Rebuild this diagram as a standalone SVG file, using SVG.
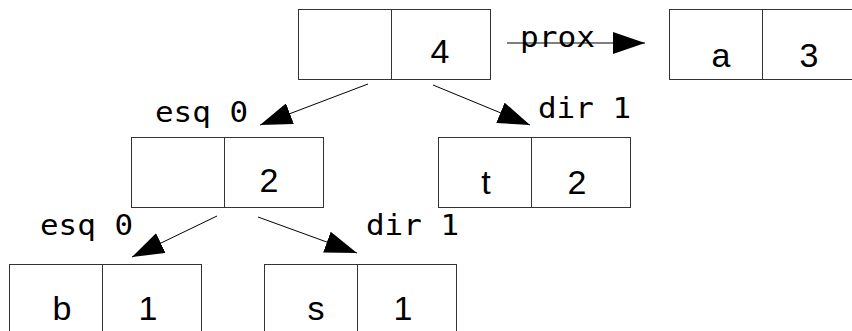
<svg xmlns="http://www.w3.org/2000/svg" width="852" height="331" viewBox="0 0 852 331">
  <defs>
    <style>
      .cell { fill: #ffffff; stroke: #333333; stroke-width: 1; }
      .val { font-family: "Liberation Sans", Arial, sans-serif; font-size: 34px; fill: #000000; text-anchor: middle; }
      .lbl { font-family: "DejaVu Sans Mono", monospace; font-size: 28px; fill: #000000; }
      .edge { stroke: #000000; stroke-width: 1; fill: none; marker-end: url(#head); }
    </style>
    <marker id="head" viewBox="0 0 32 22" refX="32" refY="11" markerWidth="32" markerHeight="22" markerUnits="userSpaceOnUse" orient="auto">
      <path d="M0,0 L32,11 L0,22 Z" fill="#000000"/>
    </marker>
  </defs>
  <rect width="852" height="331" fill="#ffffff"/>

  <!-- connectors -->
  <g id="connectors">
    <line class="edge" x1="368" y1="84" x2="260" y2="125"/>
    <line class="edge" x1="433" y1="85" x2="530" y2="125"/>
    <line class="edge" x1="217" y1="216" x2="132" y2="257"/>
    <line class="edge" x1="258" y1="217" x2="357" y2="253"/>
    <line class="edge" x1="507" y1="43" x2="645" y2="43"/>
    <text class="lbl" x="155" y="122" textLength="93" lengthAdjust="spacingAndGlyphs">esq 0</text>
    <text class="lbl" x="538" y="118" textLength="93" lengthAdjust="spacingAndGlyphs">dir 1</text>
    <text class="lbl" x="40" y="235" textLength="93" lengthAdjust="spacingAndGlyphs">esq 0</text>
    <text class="lbl" x="366" y="235" textLength="93" lengthAdjust="spacingAndGlyphs">dir 1</text>
    <text class="lbl" x="520" y="47" textLength="75" lengthAdjust="spacingAndGlyphs">prox</text>
  </g>

  <!-- root node -->
  <g id="node-root">
    <rect class="cell" x="298.5" y="9.5" width="192" height="70"/>
    <line class="cell" x1="391.5" y1="9.5" x2="391.5" y2="79.5"/>
    <text class="val" x="440" y="63">4</text>
  </g>

  <!-- list successor -->
  <g id="node-a">
    <rect class="cell" x="669.5" y="9.5" width="192" height="70"/>
    <line class="cell" x1="762.5" y1="9.5" x2="762.5" y2="79.5"/>
    <text class="val" x="721" y="67">a</text>
    <text class="val" x="809" y="67">3</text>
  </g>

  <!-- left child -->
  <g id="node-left">
    <rect class="cell" x="131.5" y="137.5" width="192" height="70"/>
    <line class="cell" x1="224.5" y1="137.5" x2="224.5" y2="207.5"/>
    <text class="val" x="269" y="192">2</text>
  </g>

  <!-- right child -->
  <g id="node-t">
    <rect class="cell" x="438.5" y="137.5" width="192" height="70"/>
    <line class="cell" x1="531.5" y1="137.5" x2="531.5" y2="207.5"/>
    <text class="val" x="486" y="194">t</text>
    <text class="val" x="577" y="194">2</text>
  </g>

  <!-- leaves -->
  <g id="node-b">
    <rect class="cell" x="9.5" y="264.5" width="192" height="70"/>
    <line class="cell" x1="102.5" y1="264.5" x2="102.5" y2="334.5"/>
    <text class="val" x="62" y="320">b</text>
    <text class="val" x="148" y="320">1</text>
  </g>

  <g id="node-s">
    <rect class="cell" x="264.5" y="264.5" width="192" height="70"/>
    <line class="cell" x1="357.5" y1="264.5" x2="357.5" y2="334.5"/>
    <text class="val" x="316" y="320">s</text>
    <text class="val" x="403" y="320">1</text>
  </g>
</svg>
